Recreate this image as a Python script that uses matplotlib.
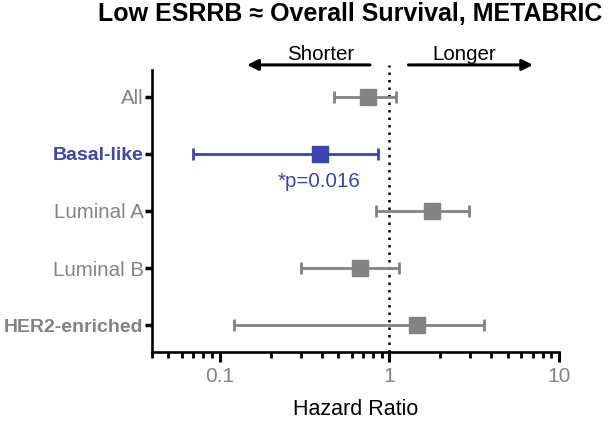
import matplotlib

matplotlib.use("Agg")
import matplotlib.pyplot as plt
from matplotlib.ticker import LogLocator, NullFormatter, FixedLocator, FixedFormatter
import matplotlib.transforms as mtransforms

# data
groups = ["All", "Basal-like", "Luminal A", "Luminal B", "HER2-enriched"]
hr = [0.75, 0.39, 1.79, 0.67, 1.46]
ci_low = [0.47, 0.070, 0.84, 0.30, 0.121]
ci_high = [1.09, 0.855, 2.96, 1.135, 3.61]
highlight = "Basal-like"
p_label = "*p=0.016"

GRAY = "#838383"
BLUE = "#3B45B3"

plt.rcParams.update({
    "font.family": ["Liberation Sans", "DejaVu Sans"],
    "axes.linewidth": 1.9,
})

fig = plt.figure(figsize=(6.15, 4.22), dpi=100)
ax = fig.add_axes([152 / 615, 1 - 352 / 422, (559 - 152) / 615, (352 - 70) / 422])

ys = list(range(len(groups)))
for y, g, m, lo, hi in zip(ys, groups, hr, ci_low, ci_high):
    c = BLUE if g == highlight else GRAY
    ax.errorbar(m, y, xerr=[[m - lo], [hi - m]], fmt="s", color=c, ecolor=c,
                markersize=11.5, elinewidth=2.0, capsize=4.5, capthick=2.0, zorder=3)

# reference line at HR = 1, running a little above the plot area
ax.axvline(1, ymin=0, ymax=1.016, color="black", linestyle=(0, (1, 2)),
           linewidth=1.8, zorder=2, clip_on=False)

ax.set_xscale("log")
ax.set_xlim(0.04, 10)
ax.set_ylim(len(groups) - 0.53, -0.47)

ax.xaxis.set_major_locator(FixedLocator([0.1, 1, 10]))
ax.xaxis.set_major_formatter(FixedFormatter(["0.1", "1", "10"]))
ax.xaxis.set_minor_locator(LogLocator(base=10, subs=range(2, 10)))
ax.xaxis.set_minor_formatter(NullFormatter())
ax.tick_params(axis="x", which="major", length=7, width=2.2, colors="black",
               labelcolor=GRAY, labelsize=15, pad=4)
ax.tick_params(axis="x", which="minor", length=4.5, width=2.0, colors="black")

ax.set_yticks(ys)
ax.set_yticklabels(groups)
ax.tick_params(axis="y", length=5, width=2.5, labelsize=14.8, pad=1)
for lbl in ax.get_yticklabels():
    t = lbl.get_text()
    if t == highlight:
        lbl.set_color(BLUE)
        lbl.set_fontweight("bold")
        lbl.set_fontsize(14)
    elif t == "HER2-enriched":
        lbl.set_color(GRAY)
        lbl.set_fontweight("bold")
        lbl.set_fontsize(14)
    else:
        lbl.set_color(GRAY)

for s in ("top", "right"):
    ax.spines[s].set_visible(False)

ax.set_xlabel("Hazard Ratio", fontsize=15.5, labelpad=9)

# p-value under the highlighted group
bi = groups.index(highlight)
ax.text(hr[bi] * 0.985, bi + 0.58, p_label, color=BLUE, fontsize=14.8, ha="center", va="baseline")

# direction arrows above the plot
trans = mtransforms.blended_transform_factory(ax.transData, ax.transAxes)
arrow_y = 1.018
ax.annotate("", xy=(0.14, arrow_y), xytext=(0.80, arrow_y), xycoords=trans, textcoords=trans,
            arrowprops=dict(arrowstyle="-|>", color="black", lw=2.2, mutation_scale=16),
            annotation_clip=False)
ax.annotate("", xy=(7.3, arrow_y), xytext=(1.25, arrow_y), xycoords=trans, textcoords=trans,
            arrowprops=dict(arrowstyle="-|>", color="black", lw=2.2, mutation_scale=16),
            annotation_clip=False)
ax.text(0.395, 1.036, "Shorter", transform=trans, fontsize=14.8, ha="center", va="baseline", clip_on=False)
ax.text(2.75, 1.036, "Longer", transform=trans, fontsize=14.8, ha="center", va="baseline", clip_on=False)

fig.text(350 / 615, 1 - 21 / 422, "Low ESRRB \u2248 Overall Survival, METABRIC", fontsize=18,
         fontweight="bold", ha="center", va="baseline")

fig.savefig("out.png", dpi=100)
